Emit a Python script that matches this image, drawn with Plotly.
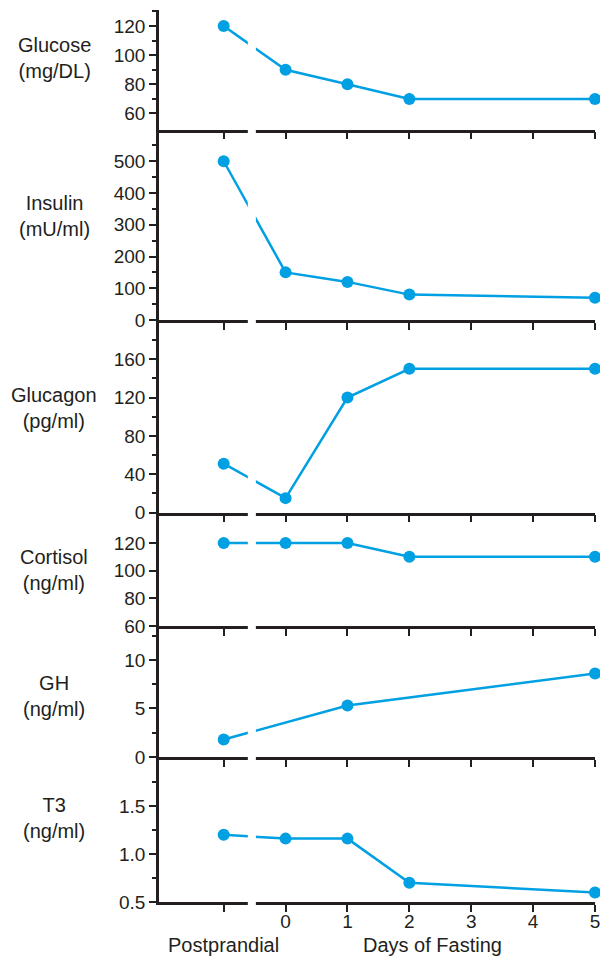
import plotly.graph_objects as go

# ---- data ----
x_pos = [-1, 0, 1, 2, 5]          # -1 = Postprandial, then days of fasting
glucose = [120, 90, 80, 70, 70]
insulin = [500, 150, 120, 80, 70]
glucagon = [51, 15, 120, 150, 150]
cortisol = [120, 120, 120, 110, 110]
gh_x = [-1, 1, 5]
gh_vals = [1.8, 5.3, 8.6]
t3 = [1.20, 1.16, 1.16, 0.70, 0.60]

titles = ["Glucose<br>(mg/DL)", "Insulin<br>(mU/ml)", "Glucagon<br>(pg/ml)",
          "Cortisol<br>(ng/ml)", "GH<br>(ng/ml)", "T3<br>(ng/ml)"]

x_tickvals = [-1, 0, 1, 2, 3, 4, 5]
x_ticktext = ["", "0", "1", "2", "3", "4", "5"]

# ---- styling ----
INK = "#231f20"
BLUE = "#00a0e2"
FONT = "Liberation Sans, Arial, Helvetica, sans-serif"
TICK_SIZE = 19
TEXT_SIZE = 20
W, H = 600, 956
ML, MR, MT, MB = 159, 0, 10, 54
plot_h = H - MT - MB
plot_w = W - ML - MR

# panel boundaries in pixels (top of glucose ... bottom of T3)
bounds_px = [10, 129.5, 320, 512.5, 626, 757, 902]
def py(y):
    return (H - MB - y) / plot_h

series = [
    (x_pos, glucose, [49, 131], [60, 80, 100, 120], None, [70, 90, 110, 130]),
    (x_pos, insulin, [0, 600], [0, 100, 200, 300, 400, 500], None, [50, 150, 250, 350, 450, 550]),
    (x_pos, glucagon, [0, 201], [0, 40, 80, 120, 160], None, [20, 60, 100, 140, 180]),
    (x_pos, cortisol, [60, 142], [60, 80, 100, 120], None, []),
    (gh_x, gh_vals, [0, 13.5], [0, 5, 10], None, [2.5, 7.5, 12.5]),
    (x_pos, t3, [0.5, 2.01], [0.5, 1.0, 1.5], ["0.5", "1.0", "1.5"], [0.75, 1.25, 1.75]),
]

label_px = [58, 216, 408, 570, 696, 818]

fig = go.Figure()
layout = dict(
    width=W, height=H,
    margin=dict(l=ML, r=MR, t=MT, b=MB),
    paper_bgcolor="white", plot_bgcolor="white",
    showlegend=False,
    font=dict(family=FONT, size=TICK_SIZE, color=INK),
    annotations=[], shapes=[],
)

xr = [-1 - 65 / 62.17, 5.0]
n = len(series)
for i, (xs, ys, yr, tv, tt, minor_tv) in enumerate(series):
    k = "" if i == 0 else str(i + 1)
    fig.add_trace(go.Scatter(
        x=xs, y=ys, mode="lines+markers",
        line=dict(color=BLUE, width=2.5),
        marker=dict(color=BLUE, size=12),
        xaxis="x" + k, yaxis="y" + k, cliponaxis=False,
    ))
    dom = [py(bounds_px[i + 1]), py(bounds_px[i])]
    is_bottom = (i == n - 1)
    layout["xaxis" + k] = dict(
        domain=[0, 1], anchor="y" + k, range=xr,
        showline=True, linecolor=INK, linewidth=2.5,
        ticks="outside", ticklen=7, tickwidth=2, tickcolor=INK,
        tickvals=x_tickvals, ticktext=x_ticktext,
        showticklabels=is_bottom, showgrid=False, zeroline=False,
        tickfont=dict(size=TICK_SIZE, color=INK),
        ticklabeloverflow="allow", ticklabelstandoff=-7,
    )
    ydict = dict(
        domain=dom, anchor="x" + k, range=yr,
        showline=True, linecolor=INK, linewidth=2.5,
        ticks="outside", ticklen=7, tickwidth=2, tickcolor=INK,
        tickvals=tv, showgrid=False, zeroline=False,
        tickfont=dict(size=TICK_SIZE, color=INK),
    )
    if tt:
        ydict["ticktext"] = tt
    if minor_tv:
        ydict["minor"] = dict(tickvals=minor_tv, ticks="outside", ticklen=4,
                              tickwidth=2, tickcolor=INK)
    layout["yaxis" + k] = ydict

    layout["annotations"].append(dict(
        text=titles[i], xref="paper", yref="paper",
        x=(53 - ML) / plot_w, y=py(label_px[i]),
        xanchor="center", yanchor="middle", showarrow=False,
        font=dict(size=TEXT_SIZE, color=INK),
    ))

# axis break gap
layout["shapes"].append(dict(
    type="rect", xref="x6", yref="paper", x0=-0.61, x1=-0.48, y0=-0.03, y1=1.01,
    fillcolor="white", line=dict(width=0), layer="above",
))

# bottom labels
layout["annotations"].append(dict(
    text="Postprandial", xref="x6", yref="paper", x=-1, y=py(945),
    xanchor="center", yanchor="middle", showarrow=False,
    font=dict(size=TEXT_SIZE, color=INK),
))
layout["annotations"].append(dict(
    text="Days of Fasting", xref="x6", yref="paper", x=2.37, y=py(945),
    xanchor="center", yanchor="middle", showarrow=False,
    font=dict(size=TEXT_SIZE, color=INK),
))

fig.update_layout(**layout)
fig.write_html(
    "out.html",
    config={"displayModeBar": False},
    post_script="document.body.style.margin='0';document.body.style.overflow='hidden';",
)
